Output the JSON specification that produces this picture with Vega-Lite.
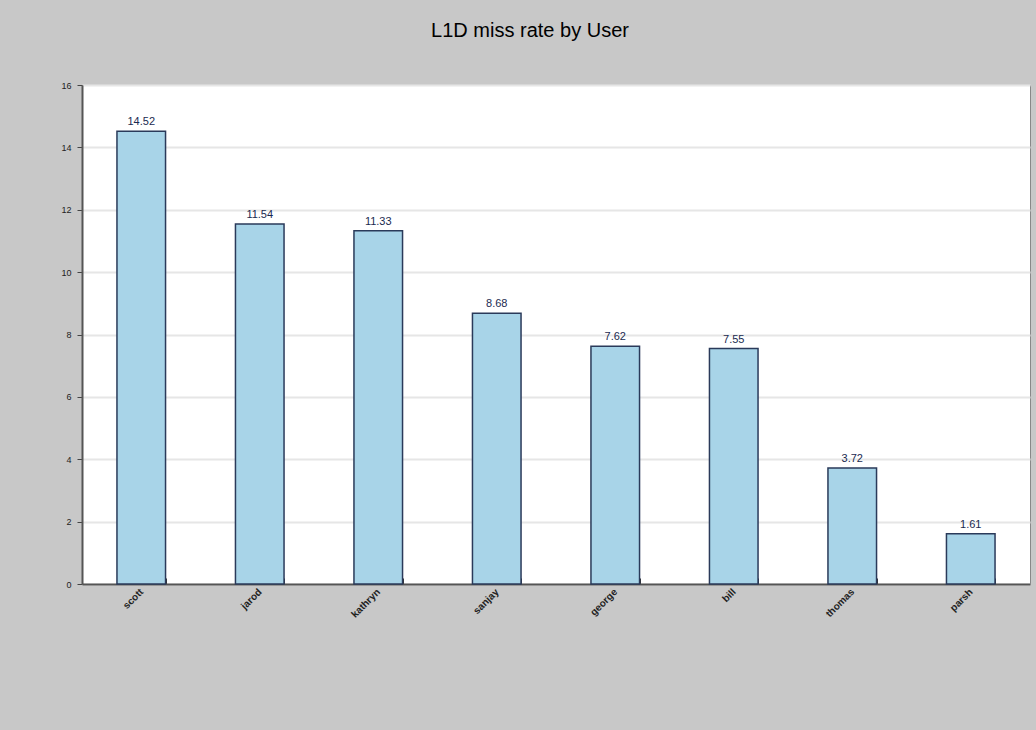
{
  "$schema": "https://vega.github.io/schema/vega-lite/v6.json",
  "autosize": "none",
  "width": 948,
  "height": 499,
  "padding": {"left": 82, "top": 85, "right": 6, "bottom": 146},
  "background": "#c8c8c8",
  "title": {"text": "L1D miss rate by User", "fontSize": 20, "font": "Liberation Sans", "fontWeight": "normal", "color": "#000000", "offset": 40, "dx": -26},
  "config": {
    "view": {"fill": "#ffffff", "stroke": "#888888"},
    "axis": {"labelFont": "Liberation Sans", "titleFont": "Liberation Sans"}
  },
  "data": {"values": [
    {"user": "scott", "rate": 14.52},
    {"user": "jarod", "rate": 11.54},
    {"user": "kathryn", "rate": 11.33},
    {"user": "sanjay", "rate": 8.68},
    {"user": "george", "rate": 7.62},
    {"user": "bill", "rate": 7.55},
    {"user": "thomas", "rate": 3.72},
    {"user": "parsh", "rate": 1.61}
  ]},
  "encoding": {
    "x": {"field": "user", "type": "nominal", "sort": null,
      "scale": {"paddingInner": 0.59, "paddingOuter": 0.295},
      "axis": {"title": null, "labelAngle": -45, "labelAlign": "right", "labelBaseline": "middle", "labelFontSize": 10, "labelColor": "#222222", "labelFontWeight": "bold", "labelPadding": 12, "labelBound": false, "tickBand": "extent", "tickSize": -6, "tickColor": "#333333", "domainColor": "#555555", "domainWidth": 2, "grid": false}},
    "y": {"field": "rate", "type": "quantitative",
      "scale": {"domain": [0, 16], "nice": false},
      "axis": {"title": null, "values": [0, 2, 4, 6, 8, 10, 12, 14, 16], "labelFontSize": 9, "labelColor": "#222222", "tickSize": 5, "tickColor": "#444444", "domainColor": "#555555", "domainWidth": 2, "gridColor": "#e6e6e6", "gridWidth": 2, "labelPadding": 6}}
  },
  "layer": [
    {"mark": {"type": "bar", "color": "#a8d4e8", "stroke": "#2a3a5a", "strokeWidth": 1.5}},
    {"mark": {"type": "text", "dy": -9, "fontSize": 11, "font": "Liberation Sans", "color": "#1a2a50"},
     "encoding": {"text": {"field": "rate", "type": "quantitative", "format": ".2f"}}}
  ]
}
